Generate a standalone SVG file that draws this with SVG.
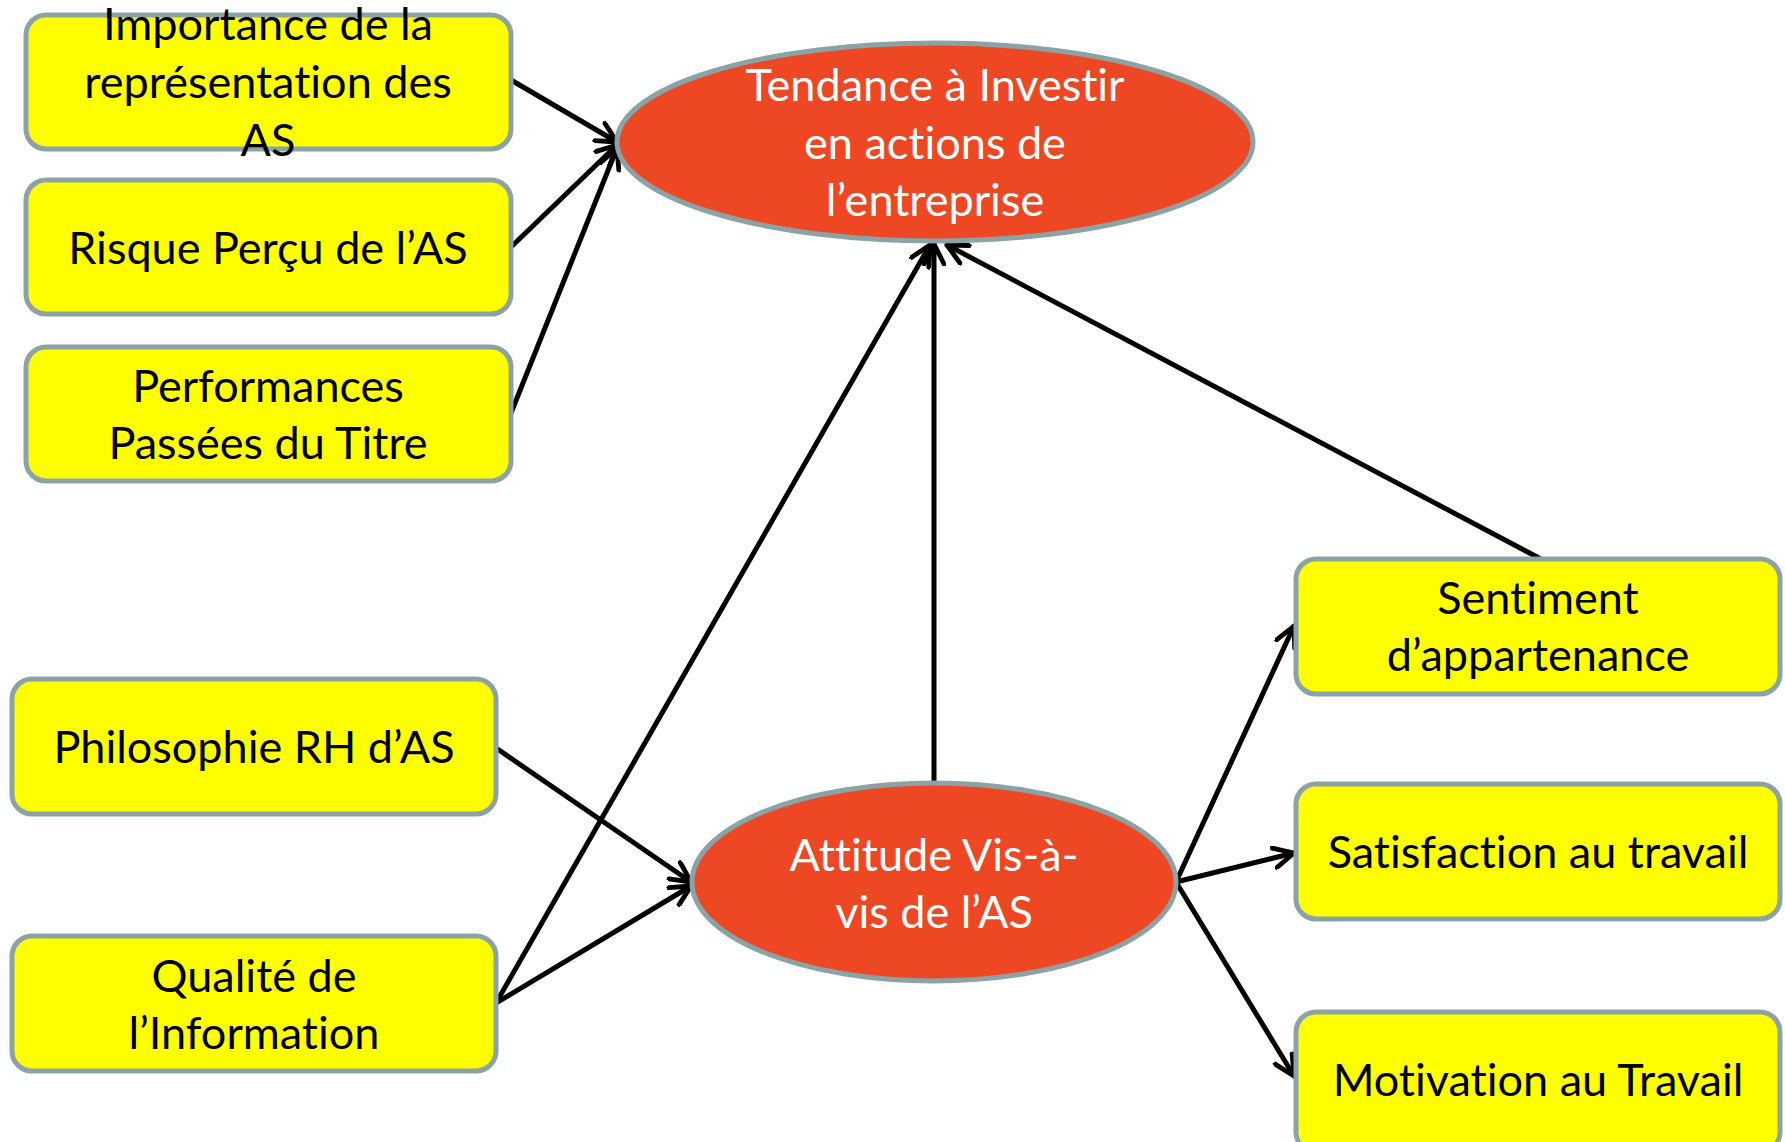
<svg xmlns="http://www.w3.org/2000/svg" width="1785" height="1142" viewBox="0 0 1785 1142">
<style>
.box{fill:#FFFF00;stroke:#8CA3A6;stroke-width:5}
.ell{fill:#EE4724;stroke:#8CA3A6;stroke-width:5}
.t{font-family:Lato,"Open Sans","Liberation Sans",sans-serif;font-size:45px;text-anchor:middle;fill:#000;font-variant-ligatures:none}
.w{fill:#fff}
.c{stroke:#000;stroke-width:5;fill:none;stroke-linecap:round}
</style>
<defs>
<marker id="ah" viewBox="0 0 12 12" refX="11" refY="6" markerWidth="24" markerHeight="24" markerUnits="userSpaceOnUse" orient="auto">
<path d="M1,1 L11,6 L1,11" fill="none" stroke="#000" stroke-width="2.4" stroke-linecap="round" stroke-linejoin="round"/>
</marker>
</defs>
<rect width="1785" height="1142" fill="#fff"/>
<g id="connectors">
<line class="c" x1="511" y1="80" x2="617" y2="142" marker-end="url(#ah)"/>
<line class="c" x1="511" y1="247" x2="617" y2="145" marker-end="url(#ah)"/>
<line class="c" x1="511" y1="413" x2="617" y2="148" marker-end="url(#ah)"/>
<line class="c" x1="496" y1="1003" x2="930" y2="245" marker-end="url(#ah)"/>
<line class="c" x1="934" y1="783" x2="934" y2="244" marker-end="url(#ah)"/>
<line class="c" x1="1539" y1="558" x2="947" y2="245" marker-end="url(#ah)"/>
<line class="c" x1="496" y1="748" x2="691" y2="882" marker-end="url(#ah)"/>
<line class="c" x1="496" y1="1003" x2="691" y2="886" marker-end="url(#ah)"/>
<line class="c" x1="1176" y1="882" x2="1294" y2="626" marker-end="url(#ah)"/>
<line class="c" x1="1176" y1="882" x2="1294" y2="853" marker-end="url(#ah)"/>
<line class="c" x1="1176" y1="882" x2="1294" y2="1076" marker-end="url(#ah)"/>
</g>
<g id="n-importance">
<rect class="box" x="26" y="15" width="485" height="134" rx="20"/>
<text class="t" x="268" y="40">Importance de la</text>
<text class="t" x="268" y="98">représentation des</text>
<text class="t" x="268" y="156">AS</text>
</g>
<g id="n-risque">
<rect class="box" x="26" y="180" width="485" height="134" rx="20"/>
<text class="t" x="268" y="264">Risque Perçu de l’AS</text>
</g>
<g id="n-performances">
<rect class="box" x="26" y="347" width="485" height="134" rx="20"/>
<text class="t" x="268" y="402">Performances</text>
<text class="t" x="268" y="459">Passées du Titre</text>
</g>
<g id="n-philosophie">
<rect class="box" x="12" y="679" width="484" height="135" rx="20"/>
<text class="t" x="254" y="763">Philosophie RH d’AS</text>
</g>
<g id="n-qualite">
<rect class="box" x="12" y="936" width="484" height="135" rx="20"/>
<text class="t" x="254" y="992">Qualité de</text>
<text class="t" x="254" y="1049">l’Information</text>
</g>
<g id="n-tendance">
<ellipse class="ell" cx="935" cy="142" rx="318" ry="99"/>
<text class="t w" x="935" y="101">Tendance à Investir</text>
<text class="t w" x="935" y="159">en actions de</text>
<text class="t w" x="935" y="216">l’entreprise</text>
</g>
<g id="n-attitude">
<ellipse class="ell" cx="934" cy="882" rx="242" ry="99"/>
<text class="t w" x="934" y="871">Attitude Vis-à-</text>
<text class="t w" x="934" y="928">vis de l’AS</text>
</g>
<g id="n-sentiment">
<rect class="box" x="1296" y="559" width="484" height="135" rx="20"/>
<text class="t" x="1538" y="614">Sentiment</text>
<text class="t" x="1538" y="671">d’appartenance</text>
</g>
<g id="n-satisfaction">
<rect class="box" x="1296" y="784" width="484" height="135" rx="20"/>
<text class="t" x="1538" y="868">Satisfaction au travail</text>
</g>
<g id="n-motivation">
<rect class="box" x="1296" y="1012" width="484" height="140" rx="20"/>
<text class="t" x="1538" y="1096">Motivation au Travail</text>
</g>
</svg>
